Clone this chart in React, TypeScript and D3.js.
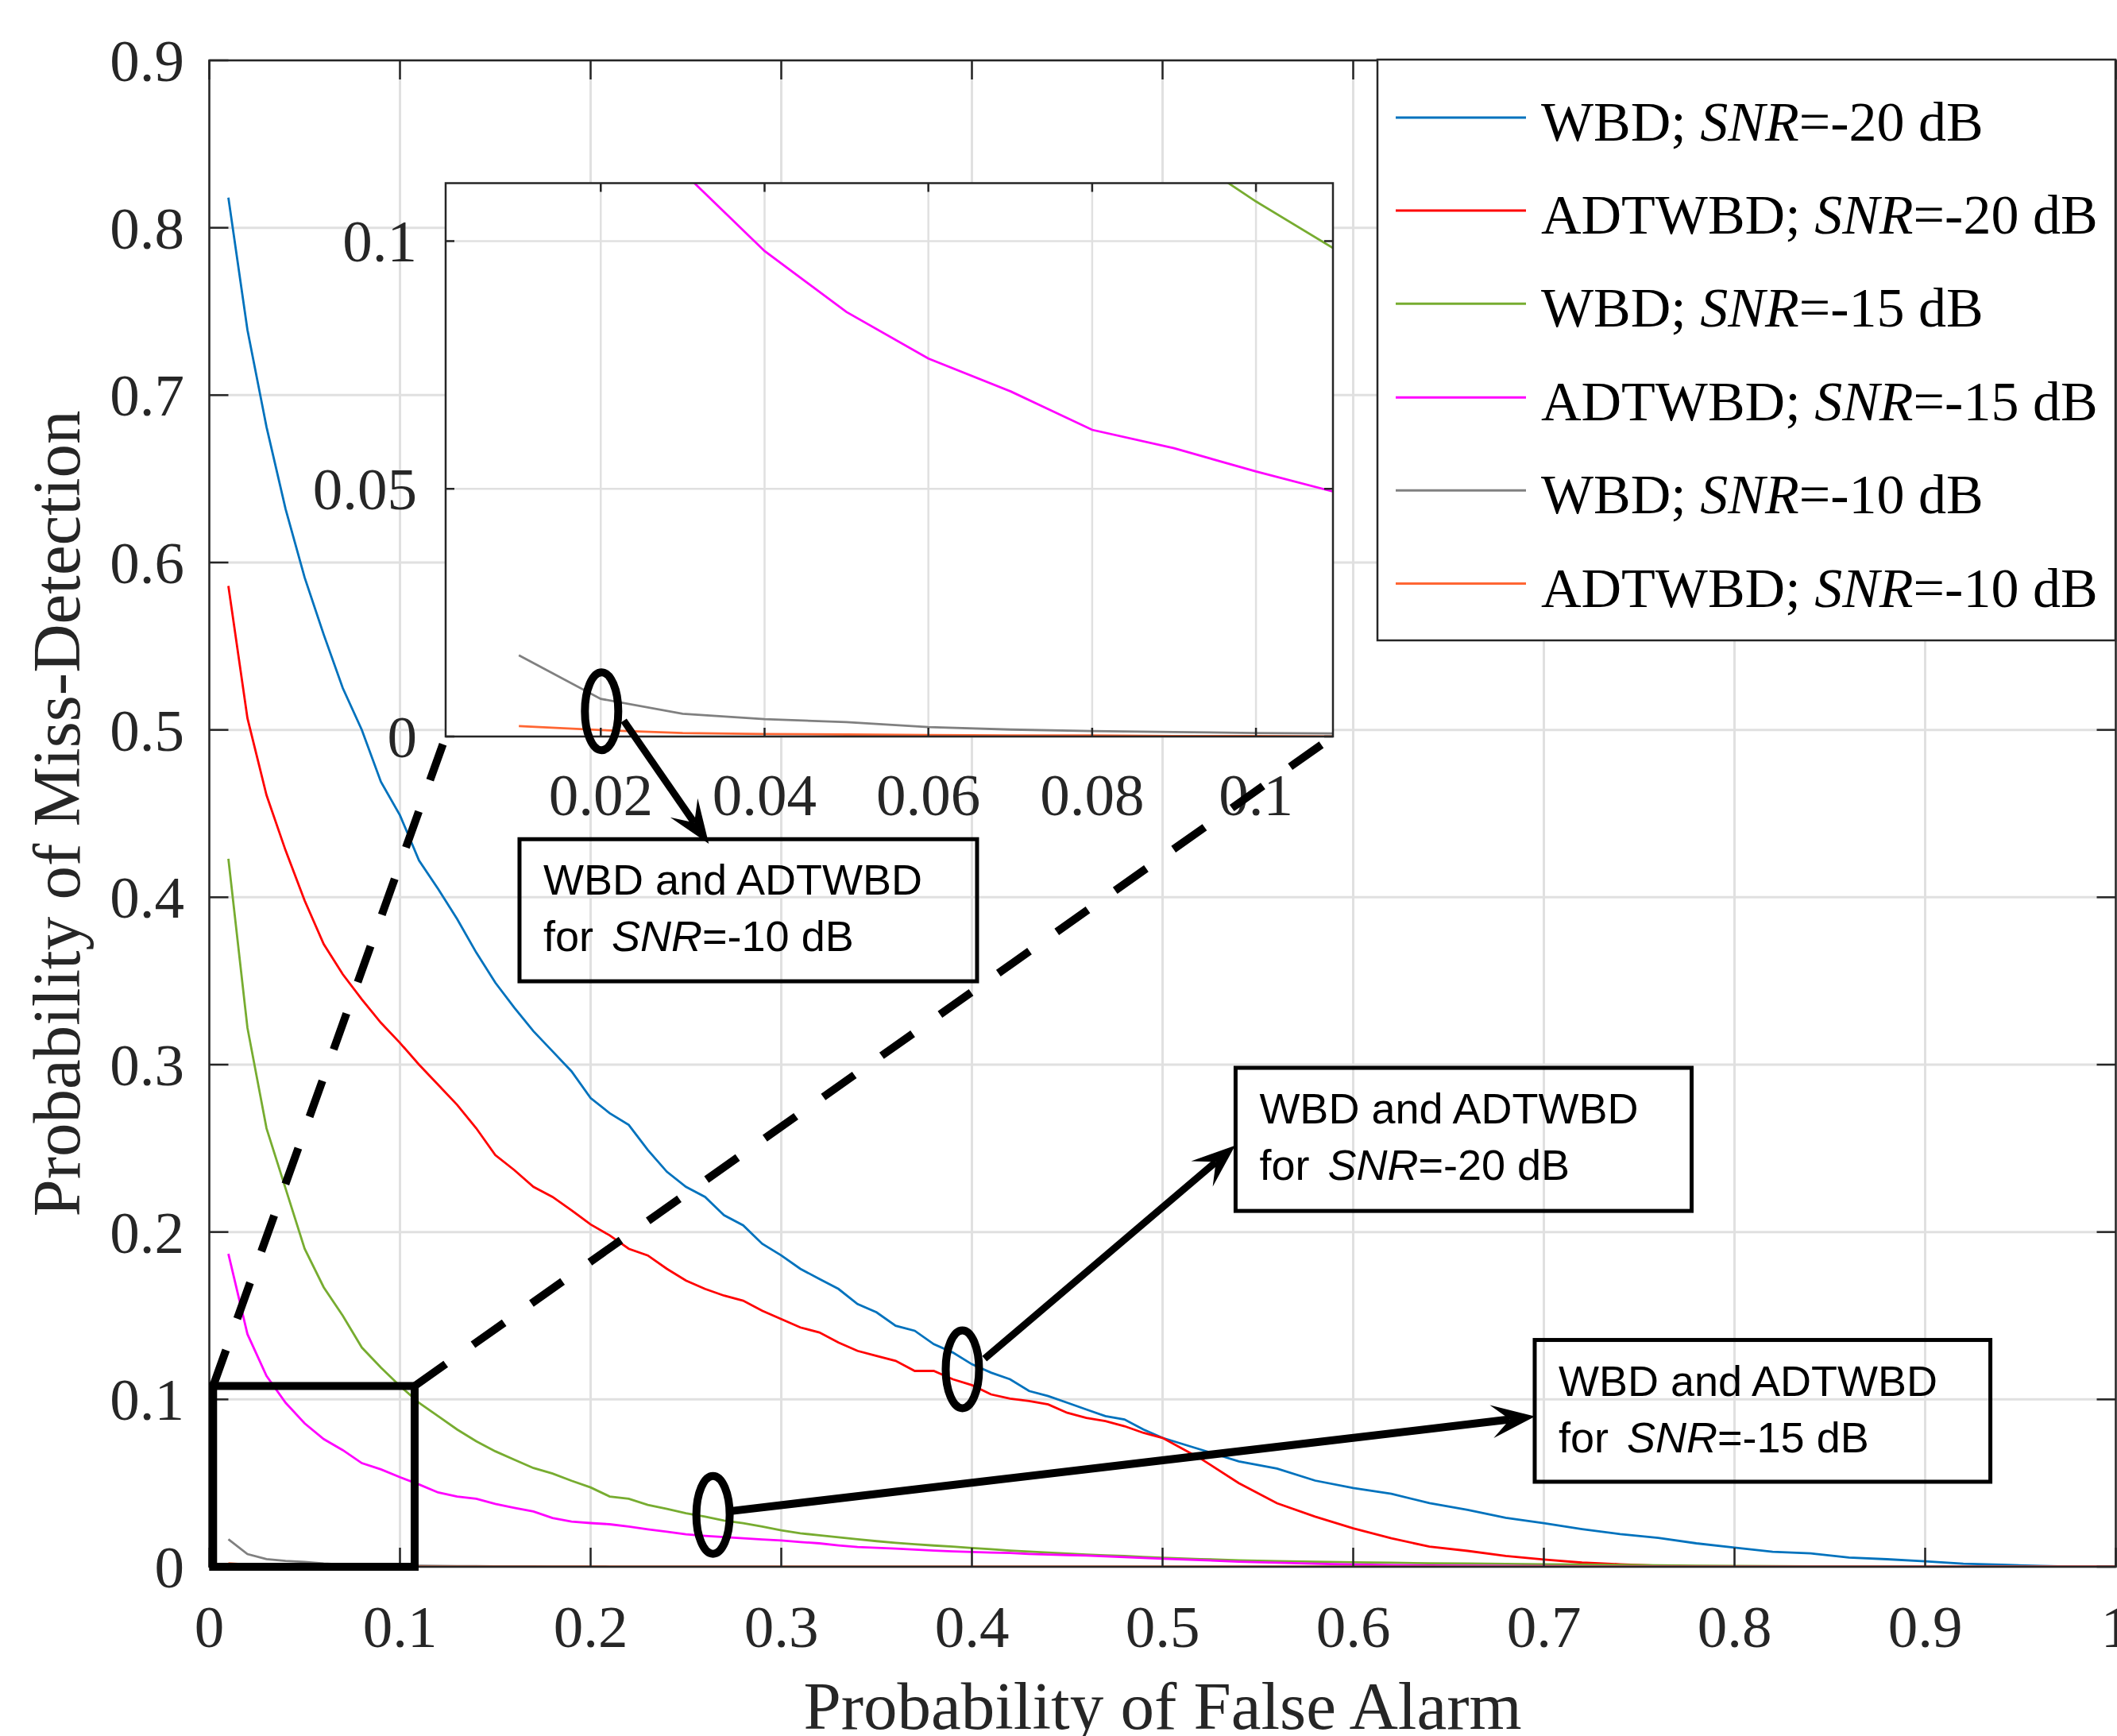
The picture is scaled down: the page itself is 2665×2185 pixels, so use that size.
import React from "react";
import * as d3 from "d3";

// probability of false alarm (x values of every curve)
const pfa = [
  0.01, 0.02, 0.03, 0.04, 0.05, 0.06, 0.07, 0.08, 0.09, 0.1,
  0.11, 0.12, 0.13, 0.14, 0.15, 0.16, 0.17, 0.18, 0.19, 0.2,
  0.21, 0.22, 0.23, 0.24, 0.25, 0.26, 0.27, 0.28, 0.29, 0.3,
  0.31, 0.32, 0.33, 0.34, 0.35, 0.36, 0.37, 0.38, 0.39, 0.4,
  0.41, 0.42, 0.43, 0.44, 0.45, 0.46, 0.47, 0.48, 0.49, 0.5,
  0.52, 0.54, 0.56, 0.58, 0.6, 0.62, 0.64, 0.66, 0.68, 0.7,
  0.72, 0.74, 0.76, 0.78, 0.8, 0.82, 0.84, 0.86, 0.88, 0.9,
  0.92, 0.94, 0.96, 0.98, 1.0,
];

// probability of miss-detection
const wbd20 = [
  0.818, 0.739, 0.681, 0.632, 0.591, 0.557, 0.525, 0.5, 0.469, 0.449,
  0.422, 0.405, 0.387, 0.367, 0.349, 0.334, 0.32, 0.308, 0.296, 0.28,
  0.271, 0.264, 0.249, 0.236, 0.227, 0.221, 0.21, 0.204, 0.193, 0.186,
  0.178, 0.172, 0.166, 0.157, 0.152, 0.144, 0.141, 0.133, 0.128, 0.121,
  0.116, 0.112, 0.105, 0.102, 0.098, 0.094, 0.09, 0.088, 0.082, 0.077,
  0.07, 0.063, 0.0587, 0.0515, 0.047, 0.0436, 0.038, 0.034, 0.0293, 0.026,
  0.0225, 0.0195, 0.0173, 0.014, 0.0115, 0.009, 0.008, 0.0055, 0.0045, 0.0033,
  0.0018, 0.0012, 0.0005, 0.0001, 0,
];
const adt20 = [
  0.586, 0.507, 0.461, 0.428, 0.398, 0.372, 0.354, 0.339, 0.325, 0.313,
  0.3, 0.288, 0.276, 0.262, 0.246, 0.237, 0.227, 0.221, 0.213, 0.2045,
  0.198, 0.19, 0.186, 0.178, 0.171, 0.166, 0.162, 0.159, 0.153, 0.148,
  0.143, 0.14, 0.134, 0.129, 0.126, 0.123, 0.117, 0.117, 0.112, 0.1085,
  0.103, 0.1005, 0.099, 0.097, 0.092, 0.089, 0.087, 0.084, 0.08, 0.077,
  0.0646, 0.05, 0.038, 0.03, 0.023, 0.017, 0.012, 0.0095, 0.0065, 0.0043,
  0.0025, 0.0015, 0.0006, 0.0002, 0, 0, 0, 0, 0, 0,
  0, 0, 0, 0, 0,
];
const wbd15 = [
  0.423, 0.322, 0.262, 0.226, 0.19, 0.167, 0.15, 0.131, 0.119, 0.108,
  0.098, 0.09, 0.082, 0.075, 0.069, 0.064, 0.059, 0.0557, 0.0514, 0.0474,
  0.042, 0.0406, 0.037, 0.0346, 0.032, 0.03, 0.0276, 0.026, 0.024, 0.0218,
  0.02, 0.0188, 0.0176, 0.0164, 0.0153, 0.0143, 0.0135, 0.0127, 0.012, 0.0112,
  0.0105, 0.0097, 0.0091, 0.0085, 0.0079, 0.0073, 0.0068, 0.0064, 0.0059, 0.0054,
  0.0046, 0.0039, 0.0034, 0.003, 0.0027, 0.0024, 0.0021, 0.0019, 0.0017, 0.0015,
  0.0013, 0.0011, 0.0009, 0.0007, 0.0005, 0.0004, 0.0003, 0.0003, 0.0002, 0.0002,
  0.0001, 0.0001, 0.0001, 0, 0,
];
const adt15 = [
  0.187, 0.139, 0.114, 0.098, 0.0857, 0.0763, 0.0697, 0.0619, 0.0582, 0.0535,
  0.0492, 0.0444, 0.042, 0.0406, 0.0376, 0.0352, 0.033, 0.0291, 0.027, 0.0261,
  0.0254, 0.024, 0.0224, 0.0209, 0.0194, 0.0185, 0.0177, 0.017, 0.0163, 0.0157,
  0.0148, 0.014, 0.0128, 0.0118, 0.0113, 0.0109, 0.0103, 0.0097, 0.0092, 0.0088,
  0.0085, 0.0082, 0.0077, 0.0073, 0.007, 0.0067, 0.0062, 0.0058, 0.0053, 0.0048,
  0.004, 0.003, 0.0024, 0.0018, 0.0013, 0.001, 0.0008, 0.0006, 0.0005, 0.0004,
  0.0003, 0.0002, 0.0002, 0.0001, 0.0001, 0, 0, 0, 0, 0,
  0, 0, 0, 0, 0,
];
const wbd10 = [
  0.0164, 0.0076, 0.0046, 0.0035, 0.0029, 0.0019, 0.0014, 0.0011, 0.0009, 0.0007,
  0.0006, 0.0005, 0.0004, 0.0004, 0.0003, 0.0003, 0.0003, 0.0002, 0.0002, 0.0002,
  0.0001, 0.0001, 0.0001, 0.0001, 0.0001, 0.0001, 0.0001, 0.0001, 0.0001, 0.0001,
  0, 0, 0, 0, 0, 0, 0, 0, 0, 0,
  0, 0, 0, 0, 0, 0, 0, 0, 0, 0,
  0, 0, 0, 0, 0, 0, 0, 0, 0, 0,
  0, 0, 0, 0, 0, 0, 0, 0, 0, 0,
  0, 0, 0, 0, 0,
];
const adt10 = [
  0.0021, 0.0013, 0.0007, 0.0005, 0.0004, 0.0003, 0.0002, 0.0002, 0.0001, 0.0001,
  0, 0, 0, 0, 0, 0, 0, 0, 0, 0,
  0, 0, 0, 0, 0, 0, 0, 0, 0, 0,
  0, 0, 0, 0, 0, 0, 0, 0, 0, 0,
  0, 0, 0, 0, 0, 0, 0, 0, 0, 0,
  0, 0, 0, 0, 0, 0, 0, 0, 0, 0,
  0, 0, 0, 0, 0, 0, 0, 0, 0, 0,
  0, 0, 0, 0, 0,
];

const methods = ["WBD", "ADTWBD", "WBD", "ADTWBD", "WBD", "ADTWBD"];
const snrs = ["-20", "-20", "-15", "-15", "-10", "-10"];
const colors = ["#0072BD", "#FF0000", "#77AC30", "#FF00FF", "#808080", "#FF6633"];
const series = [wbd20, adt20, wbd15, adt15, wbd10, adt10];

const xTicks = [0, 0.1, 0.2, 0.3, 0.4, 0.5, 0.6, 0.7, 0.8, 0.9, 1];
const yTicks = [0, 0.1, 0.2, 0.3, 0.4, 0.5, 0.6, 0.7, 0.8, 0.9];
const insetXTicks = [0.02, 0.04, 0.06, 0.08, 0.1];
const insetYTicks = [0, 0.05, 0.1];

const fmt = (v: number) => String(+v.toFixed(2));
const SERIF = "'Liberation Serif', 'Times New Roman', serif";
const SANS = "'Liberation Sans', Arial, Helvetica, sans-serif";
const AX = "#262626";
const GRID = "#e0e0e0";

function Arrow({ x1, y1, x2, y2, w }: any) {
  const len = Math.hypot(x2 - x1, y2 - y1);
  const ux = (x2 - x1) / len, uy = (y2 - y1) / len;
  const px = -uy, py = ux;
  const hl = 55, hw = 21, notch = 32;
  const bx = x2 - ux * hl, by = y2 - uy * hl;
  const nx = x2 - ux * notch, ny = y2 - uy * notch;
  return (
    <g>
      <line x1={x1} y1={y1} x2={nx} y2={ny} stroke="#000" strokeWidth={w} />
      <path
        d={`M${x2},${y2}L${bx + px * hw},${by + py * hw}L${nx},${ny}L${bx - px * hw},${by - py * hw}Z`}
        fill="#000"
      />
    </g>
  );
}

function NoteBox({ x0, y0, x1, y1, snr }: any) {
  return (
    <g>
      <rect x={x0} y={y0} width={x1 - x0} height={y1 - y0} fill="none" stroke="#000" strokeWidth={5} />
      <text x={x0 + 30} y={y0 + 70} fontFamily={SANS} fontSize={54} fill="#000">
        WBD and ADTWBD
      </text>
      <text x={x0 + 30} y={y0 + 141} fontFamily={SANS} fontSize={54} fill="#000">
        for <tspan dx={8} fontStyle="italic">SNR</tspan>=-{snr} dB
      </text>
    </g>
  );
}

export default function App() {
  const W = 2665, H = 2185;
  const L = 263.5, R = 2663.5, T = 76, B = 1972;
  const x = d3.scaleLinear().domain([0, 1]).range([L, R]);
  const y = d3.scaleLinear().domain([0, 0.9]).range([B, T]);

  // inset axes
  const IL = 561, IR = 1678, IT = 230.5, IB = 927;
  const ix = d3.scaleLinear().domain([0.00106, 0.1094]).range([IL, IR]);
  const iy = d3.scaleLinear().domain([0, 0.1117]).range([IB, IT]);

  const mainLine = d3.line<number>().x((_, i) => x(pfa[i])).y((d) => y(d));
  const insetLine = d3.line<number>().x((_, i) => ix(pfa[i])).y((d) => iy(d));

  const tl = 24, itl = 11;

  // legend
  const LG = { x0: 1734, y0: 75, x1: 2663, y1: 806 };
  const rowY = [148, 265, 382.3, 500.2, 617.2, 734.6];

  // zoom rectangle in data units
  const zr = { x0: 0.002, x1: 0.1077, y0: 0, y1: 0.108 };

  return (
    <svg width={W} height={H} style={{ position: "absolute", left: 0, top: 0, background: "#fff" }}>
      <defs>
        <clipPath id="mainClip">
          <rect x={L} y={T} width={R - L} height={B - T} />
        </clipPath>
        <clipPath id="insetClip">
          <rect x={IL} y={IT} width={IR - IL} height={IB - IT} />
        </clipPath>
      </defs>
      <rect x={0} y={0} width={W} height={H} fill="#fff" />

      {/* main grid */}
      {xTicks.map((t) => (
        <line key={"gx" + t} x1={x(t)} x2={x(t)} y1={T} y2={B} stroke={GRID} strokeWidth={3} />
      ))}
      {yTicks.map((t) => (
        <line key={"gy" + t} x1={L} x2={R} y1={y(t)} y2={y(t)} stroke={GRID} strokeWidth={3} />
      ))}

      {/* main curves */}
      <g clipPath="url(#mainClip)">
        {series.map((s, i) => (
          <path key={"m" + i} d={mainLine(s) || ""} fill="none" stroke={colors[i]} strokeWidth={2.8} />
        ))}
      </g>

      {/* main box and ticks */}
      <rect x={L} y={T} width={R - L} height={B - T} fill="none" stroke={AX} strokeWidth={2.5} />
      {xTicks.map((t) => (
        <g key={"tx" + t}>
          <line x1={x(t)} x2={x(t)} y1={B} y2={B - tl} stroke={AX} strokeWidth={2.5} />
          <line x1={x(t)} x2={x(t)} y1={T} y2={T + tl} stroke={AX} strokeWidth={2.5} />
          <text x={x(t)} y={2073} textAnchor="middle" fontFamily={SERIF} fontSize={75} fill={AX}>
            {fmt(t)}
          </text>
        </g>
      ))}
      {yTicks.map((t) => (
        <g key={"ty" + t}>
          <line x1={L} x2={L + tl} y1={y(t)} y2={y(t)} stroke={AX} strokeWidth={2.5} />
          <line x1={R} x2={R - tl} y1={y(t)} y2={y(t)} stroke={AX} strokeWidth={2.5} />
          <text x={232} y={y(t) + 26} textAnchor="end" fontFamily={SERIF} fontSize={75} fill={AX}>
            {fmt(t)}
          </text>
        </g>
      ))}

      {/* axis labels */}
      <text x={(L + R) / 2} y={2176} textAnchor="middle" fontFamily={SERIF} fontSize={85} fill={AX}>
        Probability of False Alarm
      </text>
      <text
        transform={`translate(100,${(T + B) / 2}) rotate(-90)`}
        textAnchor="middle"
        fontFamily={SERIF}
        fontSize={85}
        fill={AX}
      >
        Probability of Miss-Detection
      </text>

      {/* legend */}
      <rect x={LG.x0} y={LG.y0} width={LG.x1 - LG.x0} height={LG.y1 - LG.y0} fill="#fff" stroke={AX} strokeWidth={2.5} />
      {methods.map((m, i) => (
        <g key={"lg" + i}>
          <line x1={1757} x2={1921} y1={rowY[i]} y2={rowY[i]} stroke={colors[i]} strokeWidth={3} />
          <text x={1940} y={rowY[i] + 29} fontFamily={SERIF} fontSize={70} fill="#000">
            {m}; <tspan fontStyle="italic">SNR</tspan>={snrs[i]} dB
          </text>
        </g>
      ))}

      {/* inset */}
      <rect x={IL} y={IT} width={IR - IL} height={IB - IT} fill="#fff" />
      {insetXTicks.map((t) => (
        <line key={"igx" + t} x1={ix(t)} x2={ix(t)} y1={IT} y2={IB} stroke={GRID} strokeWidth={2.5} />
      ))}
      {insetYTicks.map((t) => (
        <line key={"igy" + t} x1={IL} x2={IR} y1={iy(t)} y2={iy(t)} stroke={GRID} strokeWidth={2.5} />
      ))}
      <g clipPath="url(#insetClip)">
        {series.map((s, i) => (
          <path key={"i" + i} d={insetLine(s) || ""} fill="none" stroke={colors[i]} strokeWidth={2.8} />
        ))}
      </g>
      <rect x={IL} y={IT} width={IR - IL} height={IB - IT} fill="none" stroke={AX} strokeWidth={2.5} />
      {insetXTicks.map((t) => (
        <g key={"itx" + t}>
          <line x1={ix(t)} x2={ix(t)} y1={IB} y2={IB - itl} stroke={AX} strokeWidth={2.5} />
          <line x1={ix(t)} x2={ix(t)} y1={IT} y2={IT + itl} stroke={AX} strokeWidth={2.5} />
          <text x={ix(t)} y={1026} textAnchor="middle" fontFamily={SERIF} fontSize={75} fill={AX}>
            {fmt(t)}
          </text>
        </g>
      ))}
      {insetYTicks.map((t) => (
        <g key={"ity" + t}>
          <line x1={IL} x2={IL + itl} y1={iy(t)} y2={iy(t)} stroke={AX} strokeWidth={2.5} />
          <line x1={IR} x2={IR - itl} y1={iy(t)} y2={iy(t)} stroke={AX} strokeWidth={2.5} />
          <text x={525} y={iy(t) + 26} textAnchor="end" fontFamily={SERIF} fontSize={75} fill={AX}>
            {fmt(t)}
          </text>
        </g>
      ))}

      {/* zoom rectangle and dashed connectors */}
      <rect
        x={x(zr.x0)}
        y={y(zr.y1)}
        width={x(zr.x1) - x(zr.x0)}
        height={y(zr.y0) - y(zr.y1)}
        fill="none"
        stroke="#000"
        strokeWidth={10}
      />
      <line x1={x(zr.x0)} y1={y(zr.y1)} x2={IL} y2={IB} stroke="#000" strokeWidth={10} strokeDasharray="48 42" />
      <line x1={x(zr.x1)} y1={y(zr.y1)} x2={IR} y2={IB} stroke="#000" strokeWidth={10} strokeDasharray="48 42" />

      {/* ellipses */}
      <ellipse cx={ix(0.0201)} cy={iy(0.0051)} rx={21} ry={49} fill="none" stroke="#000" strokeWidth={10} />
      <ellipse cx={x(0.395)} cy={y(0.118)} rx={21} ry={49} fill="none" stroke="#000" strokeWidth={10} />
      <ellipse cx={x(0.2642)} cy={y(0.031)} rx={21} ry={49} fill="none" stroke="#000" strokeWidth={10} />

      {/* arrows */}
      <Arrow x1={ix(0.0228)} y1={iy(0.0032)} x2={x(0.262)} y2={y(0.432)} w={9} />
      <Arrow x1={x(0.4066)} y1={y(0.1243)} x2={x(0.5381)} y2={y(0.2517)} w={9} />
      <Arrow x1={x(0.2745)} y1={y(0.0334)} x2={x(0.6954)} y2={y(0.0898)} w={10} />

      {/* text boxes */}
      <NoteBox x0={x(0.1627)} x1={x(0.4027)} y0={y(0.4347)} y1={y(0.3498)} snr="10" />
      <NoteBox x0={x(0.5383)} x1={x(0.7775)} y0={y(0.2981)} y1={y(0.2126)} snr="20" />
      <NoteBox x0={x(0.6952)} x1={x(0.9342)} y0={y(0.1355)} y1={y(0.0508)} snr="15" />
    </svg>
  );
}
